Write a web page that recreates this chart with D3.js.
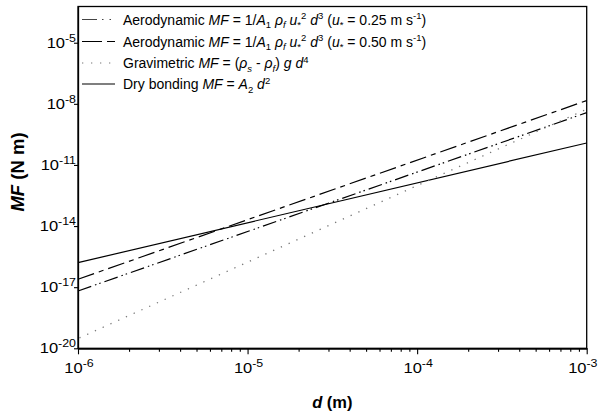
<!DOCTYPE html>
<html>
<head>
<meta charset="utf-8">
<script src="https://cdn.jsdelivr.net/npm/d3@7"></script>
<style>
  html, body { margin: 0; padding: 0; background: #fff; }
  svg { display: block; font-family: "Liberation Sans", Arial, sans-serif; }
</style>
</head>
<body>
<svg id="chart" width="599" height="412"></svg>
<script>
// ---- data ----
const dValues = [1e-6, 1e-3];                 // particle diameter d (m), ends of each line
const aero025 = [6.5e-18, 3.7e-9];            // Aerodynamic, u* = 0.25 m/s
const aero050 = [2.45e-17, 1.45e-8];          // Aerodynamic, u* = 0.50 m/s
const gravimetric = [3.0e-20, 5.5e-9];        // Gravimetric
const dryBonding = [1.6e-16, 1.2e-10];        // Dry bonding
const xMajorTicks = [1e-6, 1e-5, 1e-4, 1e-3];
const xTickExponents = ["-6", "-5", "-4", "-3"];
const yMajorTicks = [1e-20, 1e-17, 1e-14, 1e-11, 1e-8, 1e-5];
const yTickExponents = ["-20", "-17", "-14", "-11", "-8", "-5"];
const xDomain = [1e-6, 1e-3];
const yDomain = [1e-20, 6e-4];

// ---- layout ----
const svg = d3.select("#chart");
const W = 599;
const pLeft = 78, pRight = 586.7, pTop = 6.5, pBottom = 348.3;

const x = d3.scaleLog().domain(xDomain).range([pLeft, pRight]);
const y = d3.scaleLog().domain(yDomain).range([pBottom, pTop]);

const font = "'Liberation Sans', Arial, sans-serif";

// minor x ticks
const xMinor = [];
for (let e = -6; e < -3; e++) for (let m = 2; m <= 9; m++) xMinor.push(m * Math.pow(10, e));

// frame
svg.append("rect")
  .attr("x", pLeft).attr("y", pTop)
  .attr("width", pRight - pLeft).attr("height", pBottom - pTop)
  .attr("fill", "none").attr("stroke", "#000").attr("stroke-width", 1.3);

// x axis (major + minor)
const gx = svg.append("g").attr("transform", `translate(0,${pBottom})`);
gx.call(d3.axisBottom(x).tickValues(xMajorTicks).tickSize(6).tickSizeOuter(0).tickFormat(""));
const gxm = svg.append("g").attr("transform", `translate(0,${pBottom})`);
gxm.call(d3.axisBottom(x).tickValues(xMinor).tickSize(3.5).tickSizeOuter(0).tickFormat(""));
[gx, gxm].forEach(g => {
  g.select(".domain").attr("stroke", "#000").attr("stroke-width", 1.3);
  g.selectAll(".tick line").attr("stroke", "#000").attr("stroke-width", 1.1);
});

// y axis
const gy = svg.append("g").attr("transform", `translate(${pLeft},0)`);
gy.call(d3.axisLeft(y).tickValues(yMajorTicks).tickSize(4).tickSizeOuter(0).tickFormat(""));
gy.select(".domain").attr("stroke", "#000").attr("stroke-width", 1.3);
gy.selectAll(".tick line").attr("stroke", "#000").attr("stroke-width", 1.1);

// tick labels as 10^n
function powLabel(g, px, py, exp, anchor) {
  const t = g.append("text").attr("x", 0).attr("y", 0)
    .attr("transform", `translate(${px},${py}) scale(1.18,1)`)
    .attr("text-anchor", anchor).attr("font-family", font)
    .attr("font-size", 14).attr("fill", "#000");
  t.append("tspan").text("10");
  t.append("tspan").attr("dy", -6).attr("font-size", 10.5).text(exp);
  return t;
}
xMajorTicks.forEach((v, i) => {
  const last = i === xMajorTicks.length - 1;
  // the last label would run past the right edge: right-align it to the edge
  powLabel(svg, last ? W - 1.5 : x(v) + 1, 373, xTickExponents[i], last ? "end" : "middle");
});
yMajorTicks.forEach((v, i) => powLabel(svg, 76, y(v) + 5, yTickExponents[i], "end"));

// axis titles
const xt = svg.append("text").attr("x", (pLeft + pRight) / 2).attr("y", 408)
  .attr("text-anchor", "middle").attr("font-family", font)
  .attr("font-size", 16.5).attr("font-weight", "bold");
xt.append("tspan").attr("font-style", "italic").text("d");
xt.append("tspan").text(" (m)");

const yt = svg.append("text")
  .attr("transform", `translate(23.5,172) rotate(-90)`)
  .attr("text-anchor", "middle").attr("font-family", font)
  .attr("font-size", 18.5).attr("font-weight", "bold");
yt.append("tspan").attr("font-style", "italic").text("MF");
yt.append("tspan").text(" (N m)");

// ---- lines ----
const line = d3.line().x(d => x(d[0])).y(d => y(d[1]));
const plot = svg.append("g");
const series = [
  { vals: dryBonding, dash: null, color: "#000", w: 1.2 },
  { vals: aero050, dash: "17,5,5,5", color: "#000", w: 1.2 },
  { vals: aero025, dash: "14,4,1.5,3,1.5,4", color: "#000", w: 1.2 },
  { vals: gravimetric, dash: "1.3,7.2", color: "#777", w: 1.3, offset: 7 }
];
series.forEach(s => {
  const pts = dValues.map((d, i) => [d, s.vals[i]]);
  const p = plot.append("path").datum(pts)
    .attr("d", line).attr("fill", "none")
    .attr("stroke", s.color).attr("stroke-width", s.w);
  if (s.dash) p.attr("stroke-dasharray", s.dash);
  if (s.offset) p.attr("stroke-dashoffset", s.offset);
});

// ---- legend ----
function richText(g, px, py, parts) {
  const t = g.append("text").attr("x", px).attr("y", py)
    .attr("font-family", font).attr("font-size", 14).attr("fill", "#000");
  let shift = 0;
  parts.forEach(p => {
    const [txt, st] = p;
    const ts = t.append("tspan").text(txt);
    let target = 0;
    if (st && st.includes("sub")) target = 3.8;
    if (st && st.includes("sup")) target = -5.5;
    ts.attr("dy", target - shift);
    shift = target;
    if (st && (st.includes("sub") || st.includes("sup"))) ts.attr("font-size", 9.5);
    if (st && st.includes("i")) ts.attr("font-style", "italic");
  });
  return t;
}
const legend = svg.append("g");
const legendRows = [
  { cy: 19.5, dash: "15,5,1.5,6,1.5,8", color: "#444",
    parts: [["Aerodynamic "], ["MF", "i"], [" = 1/"], ["A", "i"], ["1", "sub"], [" "], ["ρ", "i"], ["f", "sub i"], [" "], ["u", "i"], ["*", "sub"], ["2", "sup"], [" "], ["d", "i"], ["3", "sup"], [" ("], ["u", "i"], ["*", "sub"], [" = 0.25 m s"], ["-1", "sup"], [")"]] },
  { cy: 41.5, dash: "20,5,8,5", color: "#000",
    parts: [["Aerodynamic "], ["MF", "i"], [" = 1/"], ["A", "i"], ["1", "sub"], [" "], ["ρ", "i"], ["f", "sub i"], [" "], ["u", "i"], ["*", "sub"], ["2", "sup"], [" "], ["d", "i"], ["3", "sup"], [" ("], ["u", "i"], ["*", "sub"], [" = 0.50 m s"], ["-1", "sup"], [")"]] },
  { cy: 63, dash: "1.3,7.7", color: "#777",
    parts: [["Gravimetric "], ["MF", "i"], [" = ("], ["ρ", "i"], ["s", "sub i"], [" - "], ["ρ", "i"], ["f", "sub i"], [") "], ["g", "i"], [" "], ["d", "i"], ["4", "sup"]] },
  { cy: 84, dash: null, color: "#000",
    parts: [["Dry bonding "], ["MF", "i"], [" = "], ["A", "i"], ["2", "sub"], [" "], ["d", "i"], ["2", "sup"]] }
];
legendRows.forEach(r => {
  const l = legend.append("line").attr("x1", 82).attr("x2", 115)
    .attr("y1", r.cy).attr("y2", r.cy)
    .attr("stroke", r.color).attr("stroke-width", 1.2);
  if (r.dash) l.attr("stroke-dasharray", r.dash);
  richText(legend, 123, r.cy + 5, r.parts);
});
</script>
</body>
</html>
